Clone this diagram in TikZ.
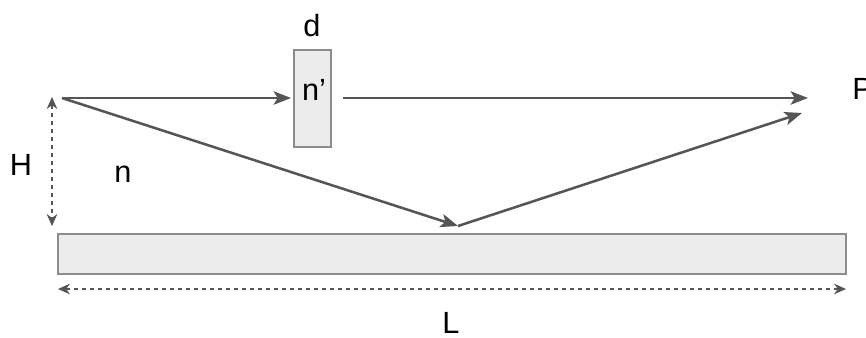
\documentclass[tikz,border=0pt]{standalone}
\usepackage{fontspec}
\setmainfont{Liberation Sans}
\usepackage{xcolor}
\usetikzlibrary{arrows.meta}
\definecolor{raygray}{HTML}{555555}
\definecolor{platefill}{HTML}{ECECEC}
\definecolor{plateline}{HTML}{8C8C8C}

\begin{document}
\begin{tikzpicture}[x=0.75pt,y=0.75pt,yscale=-1,xscale=1,
  ray/.style={draw=raygray,line width=1.9pt,-{Stealth[length=13pt,width=10pt,inset=3pt]}},
  dim/.style={draw=raygray,line width=0.9pt,dashed,{Stealth[length=9pt,width=8pt]}-{Stealth[length=9pt,width=8pt]}},
  plate/.style={draw=plateline,fill=platefill,line width=1pt},
  lbl/.style={inner sep=0.75pt,font=\fontsize{23}{27}\selectfont}]
\useasboundingbox (0,0) rectangle (866,338);
% plates
\draw[plate] (294,50) rectangle (331,147);
\draw[plate] (58,234) rectangle (846,274);
% points
\coordinate (src) at (62,98);
\coordinate (slitin) at (291,98);
\coordinate (slitout) at (343,98);
\coordinate (pA) at (808,98);
\coordinate (hit) at (458,226);
\coordinate (pB) at (802,113);
\coordinate (hTop) at (52,97);
\coordinate (hBot) at (52,226);
\coordinate (lLeft) at (58,289);
\coordinate (lRight) at (846,289);
% rays
\draw[ray] (src) -- (slitin);
\draw[ray] (slitout) -- (pA);
\draw[ray] (src) -- (hit);
\draw[ray] (hit) -- (pB);
% dimensions
\draw[dim] (hTop) -- (hBot);
\draw[dim] (lLeft) -- (lRight);
% labels
\node[lbl] (dlab) at (312,26) {d};
\node[lbl] (nplab) at (314,90) {n’};
\node[lbl] (hlab) at (21,165) {H};
\node[lbl] (nlab) at (123,174) {n};
\node[lbl] (llab) at (451,323) {L};
\node[lbl,anchor=west] (plab) at (851,89) {P};
\end{tikzpicture}
\end{document}
